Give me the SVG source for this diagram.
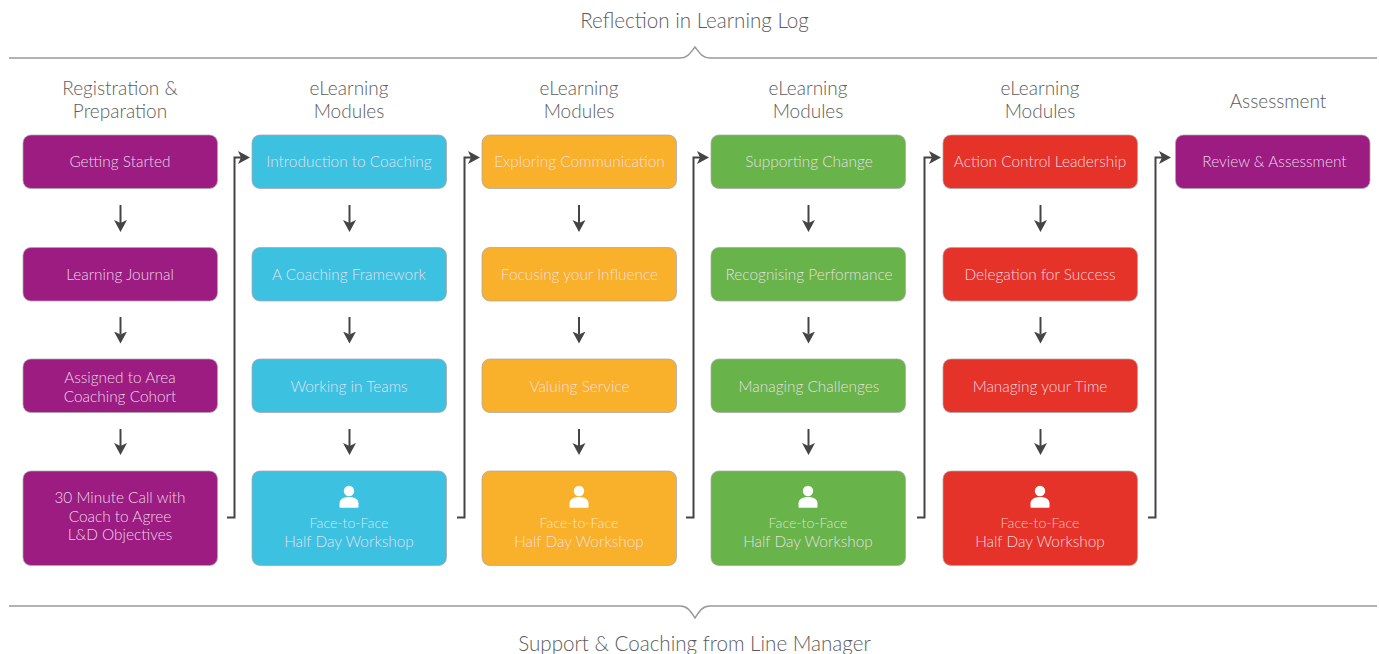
<svg xmlns="http://www.w3.org/2000/svg" xmlns:xlink="http://www.w3.org/1999/xlink" width="1379" height="654" viewBox="0 0 1379 654">
<style>
text{font-family:"Lato","Open Sans","Liberation Sans",sans-serif;text-anchor:middle;font-weight:300}
.h{font-size:19px;fill:#5c5c5c}
.big{font-size:20.600px;fill:#5c5c5c}
.t{font-size:15.400px;fill:#f4e3f2;fill-opacity:.92}
.s{font-size:14.200px;fill:#fff;fill-opacity:.72}
.box{stroke:#a8a8a8;stroke-width:1;stroke-opacity:.75}
.p{fill:#9c1c82}.b{fill:#3dc1e1}.o{fill:#f9b02b}.g{fill:#68b34a}.r{fill:#e63329}
.conn{fill:none;stroke:#444;stroke-width:2}
.brace{fill:none;stroke:#999;stroke-width:1.500}
.ah{fill:#444}
.u{fill:#fff}
</style>
<defs>
<marker id="a" markerUnits="userSpaceOnUse" markerWidth="14" markerHeight="14" refX="3" refY="6.500" orient="auto"><path class="ah" d="M0 0 L12 6.500 L0 13 L3 6.500Z"/></marker>
<g id="user"><circle class="u" cx="0" cy="-6" r="5.200"/><path class="u" d="M-9.500 10 v-3.500 c0-4.500 4.500-6.500 9.500-6.500 s9.500 2 9.500 6.500 v3.500 q0 .8 -.8 .8 h-17.400 q-.8 0 -.8 -.8z"/></g>
</defs>

<g id="top-brace"><path class="brace" d="M9 58H680C688 58 691 52 695 47C699 52 702 58 710 58H1377"/><text class="big" x="694.500" y="28">Reflection in Learning Log</text></g>
<g id="bottom-brace"><path class="brace" d="M9 606H680C688 606 691 612 695 618C699 612 702 606 710 606H1377"/><text class="big" x="694.500" y="651">Support &amp; Coaching from Line Manager</text></g>

<g id="headers">
<text class="h" x="120" y="95">Registration &amp;</text><text class="h" x="120" y="118">Preparation</text>
<text class="h" x="349" y="95">eLearning</text><text class="h" x="349" y="118">Modules</text>
<text class="h" x="579" y="95">eLearning</text><text class="h" x="579" y="118">Modules</text>
<text class="h" x="808" y="95">eLearning</text><text class="h" x="808" y="118">Modules</text>
<text class="h" x="1040" y="95">eLearning</text><text class="h" x="1040" y="118">Modules</text>
<text class="h" x="1278" y="108">Assessment</text>
</g>

<g id="connectors">
<path class="conn" marker-end="url(#a)" d="M120.500 205V223"/><path class="conn" marker-end="url(#a)" d="M120.500 317V334.500"/><path class="conn" marker-end="url(#a)" d="M120.500 429V446"/>
<path class="conn" marker-end="url(#a)" d="M349.500 205V223"/><path class="conn" marker-end="url(#a)" d="M349.500 317V334.500"/><path class="conn" marker-end="url(#a)" d="M349.500 429V446"/>
<path class="conn" marker-end="url(#a)" d="M579 205V223"/><path class="conn" marker-end="url(#a)" d="M579 317V334.500"/><path class="conn" marker-end="url(#a)" d="M579 429V446"/>
<path class="conn" marker-end="url(#a)" d="M808.500 205V223"/><path class="conn" marker-end="url(#a)" d="M808.500 317V334.500"/><path class="conn" marker-end="url(#a)" d="M808.500 429V446"/>
<path class="conn" marker-end="url(#a)" d="M1040.500 205V223"/><path class="conn" marker-end="url(#a)" d="M1040.500 317V334.500"/><path class="conn" marker-end="url(#a)" d="M1040.500 429V446"/>
<path class="conn" marker-end="url(#a)" d="M227 517.500H234.500V157.500H241"/>
<path class="conn" marker-end="url(#a)" d="M457 517.500H464.500V157.500H471"/>
<path class="conn" marker-end="url(#a)" d="M686 517.500H693.500V157.500H700"/>
<path class="conn" marker-end="url(#a)" d="M917 517.500H924.500V157.500H932"/>
<path class="conn" marker-end="url(#a)" d="M1148 517.500H1155.500V157.500H1162"/>
</g>

<g id="n-getting-started"><rect class="box p" x="23" y="135" width="194.500" height="53.500" rx="8"/><text class="t" x="120" y="167">Getting Started</text></g>
<g id="n-learning-journal"><rect class="box p" x="23" y="247.500" width="194.500" height="53.500" rx="8"/><text class="t" x="120" y="279.500">Learning Journal</text></g>
<g id="n-assigned"><rect class="box p" x="23" y="359" width="194.500" height="53.500" rx="8"/><text class="t" x="120" y="383">Assigned to Area</text><text class="t" x="120" y="402">Coaching Cohort</text></g>
<g id="n-call"><rect class="box p" x="23" y="471" width="194.500" height="94.500" rx="8"/><text class="t" x="120" y="503">30 Minute Call with</text><text class="t" x="120" y="522">Coach to Agree</text><text class="t" x="120" y="540">L&amp;D Objectives</text></g>

<g id="n-intro"><rect class="box b" x="252" y="135" width="194.500" height="53.500" rx="8"/><text class="t" x="349" y="167">Introduction to Coaching</text></g>
<g id="n-framework"><rect class="box b" x="252" y="247.500" width="194.500" height="53.500" rx="8"/><text class="t" x="349" y="279.500">A Coaching Framework</text></g>
<g id="n-teams"><rect class="box b" x="252" y="359" width="194.500" height="53.500" rx="8"/><text class="t" x="349" y="392">Working in Teams</text></g>
<g id="n-ws1"><rect class="box b" x="252" y="471" width="194.500" height="94.500" rx="8"/><use href="#user" x="349" y="497"/><text class="s" x="349" y="528">Face-to-Face</text><text class="t" x="349" y="547">Half Day Workshop</text></g>

<g id="n-comm"><rect class="box o" x="482" y="135" width="194.500" height="53.500" rx="8"/><text class="t" x="579.500" y="167">Exploring Communication</text></g>
<g id="n-influence"><rect class="box o" x="482" y="247.500" width="194.500" height="53.500" rx="8"/><text class="t" x="579.500" y="279.500">Focusing your Influence</text></g>
<g id="n-service"><rect class="box o" x="482" y="359" width="194.500" height="53.500" rx="8"/><text class="t" x="579.500" y="392">Valuing Service</text></g>
<g id="n-ws2"><rect class="box o" x="482" y="471" width="194.500" height="94.500" rx="8"/><use href="#user" x="579" y="497"/><text class="s" x="579" y="528">Face-to-Face</text><text class="t" x="579" y="547">Half Day Workshop</text></g>

<g id="n-change"><rect class="box g" x="711" y="135" width="194.500" height="53.500" rx="8"/><text class="t" x="809" y="167">Supporting Change</text></g>
<g id="n-perf"><rect class="box g" x="711" y="247.500" width="194.500" height="53.500" rx="8"/><text class="t" x="809" y="279.500">Recognising Performance</text></g>
<g id="n-chall"><rect class="box g" x="711" y="359" width="194.500" height="53.500" rx="8"/><text class="t" x="809" y="392">Managing Challenges</text></g>
<g id="n-ws3"><rect class="box g" x="711" y="471" width="194.500" height="94.500" rx="8"/><use href="#user" x="808" y="497"/><text class="s" x="808" y="528">Face-to-Face</text><text class="t" x="808" y="547">Half Day Workshop</text></g>

<g id="n-acl"><rect class="box r" x="943" y="135" width="194.500" height="53.500" rx="8"/><text class="t" x="1040" y="167">Action Control Leadership</text></g>
<g id="n-deleg"><rect class="box r" x="943" y="247.500" width="194.500" height="53.500" rx="8"/><text class="t" x="1040" y="279.500">Delegation for Success</text></g>
<g id="n-time"><rect class="box r" x="943" y="359" width="194.500" height="53.500" rx="8"/><text class="t" x="1040" y="392">Managing your Time</text></g>
<g id="n-ws4"><rect class="box r" x="943" y="471" width="194.500" height="94.500" rx="8"/><use href="#user" x="1040" y="497"/><text class="s" x="1040" y="528">Face-to-Face</text><text class="t" x="1040" y="547">Half Day Workshop</text></g>

<g id="n-review"><rect class="box p" x="1175.500" y="135" width="194.500" height="53.500" rx="8"/><text class="t" x="1274.500" y="167">Review &amp; Assessment</text></g>
</svg>
